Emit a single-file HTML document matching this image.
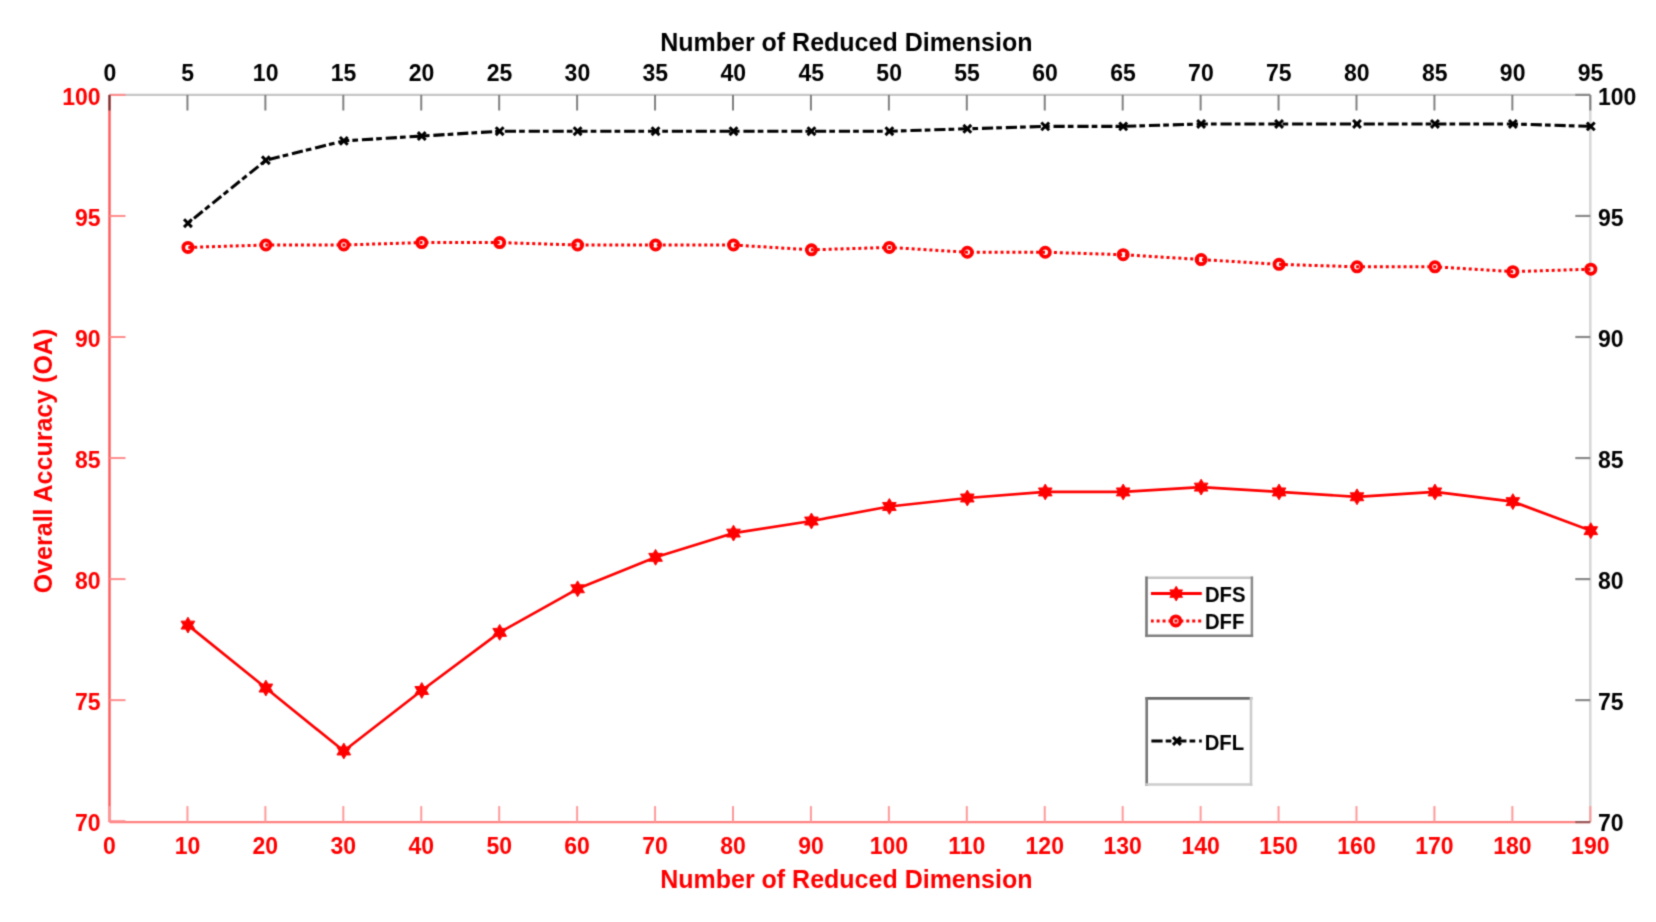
<!DOCTYPE html>
<html><head><meta charset="utf-8"><style>
html,body{margin:0;padding:0;background:#fff;}
body{width:1656px;height:922px;overflow:hidden;}
svg{display:block;}
</style></head><body>
<svg width="1656" height="922" viewBox="0 0 1656 922">
<defs><filter id="bl" x="0" y="0" width="1656" height="922" filterUnits="userSpaceOnUse" color-interpolation-filters="sRGB"><feConvolveMatrix order="3" kernelMatrix="0.0622 0.2494 0.0622 0.2494 1.0000 0.2494 0.0622 0.2494 0.0622" edgeMode="none"/></filter></defs>
<rect width="100%" height="100%" fill="#fff"/>
<g filter="url(#bl)">
<line x1="109.5" y1="94.9" x2="1590.3" y2="94.9" stroke="#c6c6c6" stroke-width="2.4"/>
<line x1="1590.3" y1="94.9" x2="1590.3" y2="822.1" stroke="#d8d8d8" stroke-width="2.6"/>
<line x1="109.5" y1="822.1" x2="1590.3" y2="822.1" stroke="#ff8080" stroke-width="2.4"/>
<line x1="109.5" y1="94.9" x2="109.5" y2="822.1" stroke="#ff5a5a" stroke-width="2.4"/>
<line x1="109.50" y1="822.1" x2="109.50" y2="806.1" stroke="#ff9a9a" stroke-width="2"/>
<line x1="187.44" y1="822.1" x2="187.44" y2="806.1" stroke="#ff9a9a" stroke-width="2"/>
<line x1="265.37" y1="822.1" x2="265.37" y2="806.1" stroke="#ff9a9a" stroke-width="2"/>
<line x1="343.31" y1="822.1" x2="343.31" y2="806.1" stroke="#ff9a9a" stroke-width="2"/>
<line x1="421.25" y1="822.1" x2="421.25" y2="806.1" stroke="#ff9a9a" stroke-width="2"/>
<line x1="499.18" y1="822.1" x2="499.18" y2="806.1" stroke="#ff9a9a" stroke-width="2"/>
<line x1="577.12" y1="822.1" x2="577.12" y2="806.1" stroke="#ff9a9a" stroke-width="2"/>
<line x1="655.06" y1="822.1" x2="655.06" y2="806.1" stroke="#ff9a9a" stroke-width="2"/>
<line x1="732.99" y1="822.1" x2="732.99" y2="806.1" stroke="#ff9a9a" stroke-width="2"/>
<line x1="810.93" y1="822.1" x2="810.93" y2="806.1" stroke="#ff9a9a" stroke-width="2"/>
<line x1="888.87" y1="822.1" x2="888.87" y2="806.1" stroke="#ff9a9a" stroke-width="2"/>
<line x1="966.81" y1="822.1" x2="966.81" y2="806.1" stroke="#ff9a9a" stroke-width="2"/>
<line x1="1044.74" y1="822.1" x2="1044.74" y2="806.1" stroke="#ff9a9a" stroke-width="2"/>
<line x1="1122.68" y1="822.1" x2="1122.68" y2="806.1" stroke="#ff9a9a" stroke-width="2"/>
<line x1="1200.62" y1="822.1" x2="1200.62" y2="806.1" stroke="#ff9a9a" stroke-width="2"/>
<line x1="1278.55" y1="822.1" x2="1278.55" y2="806.1" stroke="#ff9a9a" stroke-width="2"/>
<line x1="1356.49" y1="822.1" x2="1356.49" y2="806.1" stroke="#ff9a9a" stroke-width="2"/>
<line x1="1434.43" y1="822.1" x2="1434.43" y2="806.1" stroke="#ff9a9a" stroke-width="2"/>
<line x1="1512.36" y1="822.1" x2="1512.36" y2="806.1" stroke="#ff9a9a" stroke-width="2"/>
<line x1="1590.30" y1="822.1" x2="1590.30" y2="806.1" stroke="#ff9a9a" stroke-width="2"/>
<line x1="109.5" y1="821.20" x2="125.5" y2="821.20" stroke="#ff8c8c" stroke-width="2"/>
<line x1="109.5" y1="700.15" x2="125.5" y2="700.15" stroke="#ff8c8c" stroke-width="2"/>
<line x1="109.5" y1="579.10" x2="125.5" y2="579.10" stroke="#ff8c8c" stroke-width="2"/>
<line x1="109.5" y1="458.05" x2="125.5" y2="458.05" stroke="#ff8c8c" stroke-width="2"/>
<line x1="109.5" y1="337.00" x2="125.5" y2="337.00" stroke="#ff8c8c" stroke-width="2"/>
<line x1="109.5" y1="215.95" x2="125.5" y2="215.95" stroke="#ff8c8c" stroke-width="2"/>
<line x1="109.5" y1="94.90" x2="125.5" y2="94.90" stroke="#ff8c8c" stroke-width="2"/>
<line x1="109.50" y1="94.9" x2="109.50" y2="110.5" stroke="#6a3535" stroke-width="2"/>
<line x1="187.44" y1="94.9" x2="187.44" y2="110.5" stroke="#808080" stroke-width="2"/>
<line x1="265.37" y1="94.9" x2="265.37" y2="110.5" stroke="#808080" stroke-width="2"/>
<line x1="343.31" y1="94.9" x2="343.31" y2="110.5" stroke="#808080" stroke-width="2"/>
<line x1="421.25" y1="94.9" x2="421.25" y2="110.5" stroke="#808080" stroke-width="2"/>
<line x1="499.18" y1="94.9" x2="499.18" y2="110.5" stroke="#808080" stroke-width="2"/>
<line x1="577.12" y1="94.9" x2="577.12" y2="110.5" stroke="#808080" stroke-width="2"/>
<line x1="655.06" y1="94.9" x2="655.06" y2="110.5" stroke="#808080" stroke-width="2"/>
<line x1="732.99" y1="94.9" x2="732.99" y2="110.5" stroke="#808080" stroke-width="2"/>
<line x1="810.93" y1="94.9" x2="810.93" y2="110.5" stroke="#808080" stroke-width="2"/>
<line x1="888.87" y1="94.9" x2="888.87" y2="110.5" stroke="#808080" stroke-width="2"/>
<line x1="966.81" y1="94.9" x2="966.81" y2="110.5" stroke="#808080" stroke-width="2"/>
<line x1="1044.74" y1="94.9" x2="1044.74" y2="110.5" stroke="#808080" stroke-width="2"/>
<line x1="1122.68" y1="94.9" x2="1122.68" y2="110.5" stroke="#808080" stroke-width="2"/>
<line x1="1200.62" y1="94.9" x2="1200.62" y2="110.5" stroke="#808080" stroke-width="2"/>
<line x1="1278.55" y1="94.9" x2="1278.55" y2="110.5" stroke="#808080" stroke-width="2"/>
<line x1="1356.49" y1="94.9" x2="1356.49" y2="110.5" stroke="#808080" stroke-width="2"/>
<line x1="1434.43" y1="94.9" x2="1434.43" y2="110.5" stroke="#808080" stroke-width="2"/>
<line x1="1512.36" y1="94.9" x2="1512.36" y2="110.5" stroke="#808080" stroke-width="2"/>
<line x1="1590.30" y1="94.9" x2="1590.30" y2="110.5" stroke="#808080" stroke-width="2"/>
<line x1="1575.3" y1="822.10" x2="1590.3" y2="822.10" stroke="#9a5a5a" stroke-width="2.2"/>
<line x1="1575.3" y1="700.15" x2="1590.3" y2="700.15" stroke="#8a8a8a" stroke-width="2.2"/>
<line x1="1575.3" y1="579.10" x2="1590.3" y2="579.10" stroke="#8a8a8a" stroke-width="2.2"/>
<line x1="1575.3" y1="458.05" x2="1590.3" y2="458.05" stroke="#8a8a8a" stroke-width="2.2"/>
<line x1="1575.3" y1="337.00" x2="1590.3" y2="337.00" stroke="#8a8a8a" stroke-width="2.2"/>
<line x1="1575.3" y1="215.95" x2="1590.3" y2="215.95" stroke="#8a8a8a" stroke-width="2.2"/>
<line x1="1575.3" y1="94.90" x2="1590.3" y2="94.90" stroke="#8a8a8a" stroke-width="2.2"/>
<text x="109.80" y="81" font-family="Liberation Sans, Arial, sans-serif" font-weight="bold" font-size="23" text-anchor="middle" fill="#000">0</text>
<text x="187.74" y="81" font-family="Liberation Sans, Arial, sans-serif" font-weight="bold" font-size="23" text-anchor="middle" fill="#000">5</text>
<text x="265.67" y="81" font-family="Liberation Sans, Arial, sans-serif" font-weight="bold" font-size="23" text-anchor="middle" fill="#000">10</text>
<text x="343.61" y="81" font-family="Liberation Sans, Arial, sans-serif" font-weight="bold" font-size="23" text-anchor="middle" fill="#000">15</text>
<text x="421.55" y="81" font-family="Liberation Sans, Arial, sans-serif" font-weight="bold" font-size="23" text-anchor="middle" fill="#000">20</text>
<text x="499.48" y="81" font-family="Liberation Sans, Arial, sans-serif" font-weight="bold" font-size="23" text-anchor="middle" fill="#000">25</text>
<text x="577.42" y="81" font-family="Liberation Sans, Arial, sans-serif" font-weight="bold" font-size="23" text-anchor="middle" fill="#000">30</text>
<text x="655.36" y="81" font-family="Liberation Sans, Arial, sans-serif" font-weight="bold" font-size="23" text-anchor="middle" fill="#000">35</text>
<text x="733.29" y="81" font-family="Liberation Sans, Arial, sans-serif" font-weight="bold" font-size="23" text-anchor="middle" fill="#000">40</text>
<text x="811.23" y="81" font-family="Liberation Sans, Arial, sans-serif" font-weight="bold" font-size="23" text-anchor="middle" fill="#000">45</text>
<text x="889.17" y="81" font-family="Liberation Sans, Arial, sans-serif" font-weight="bold" font-size="23" text-anchor="middle" fill="#000">50</text>
<text x="967.11" y="81" font-family="Liberation Sans, Arial, sans-serif" font-weight="bold" font-size="23" text-anchor="middle" fill="#000">55</text>
<text x="1045.04" y="81" font-family="Liberation Sans, Arial, sans-serif" font-weight="bold" font-size="23" text-anchor="middle" fill="#000">60</text>
<text x="1122.98" y="81" font-family="Liberation Sans, Arial, sans-serif" font-weight="bold" font-size="23" text-anchor="middle" fill="#000">65</text>
<text x="1200.92" y="81" font-family="Liberation Sans, Arial, sans-serif" font-weight="bold" font-size="23" text-anchor="middle" fill="#000">70</text>
<text x="1278.85" y="81" font-family="Liberation Sans, Arial, sans-serif" font-weight="bold" font-size="23" text-anchor="middle" fill="#000">75</text>
<text x="1356.79" y="81" font-family="Liberation Sans, Arial, sans-serif" font-weight="bold" font-size="23" text-anchor="middle" fill="#000">80</text>
<text x="1434.73" y="81" font-family="Liberation Sans, Arial, sans-serif" font-weight="bold" font-size="23" text-anchor="middle" fill="#000">85</text>
<text x="1512.66" y="81" font-family="Liberation Sans, Arial, sans-serif" font-weight="bold" font-size="23" text-anchor="middle" fill="#000">90</text>
<text x="1590.60" y="81" font-family="Liberation Sans, Arial, sans-serif" font-weight="bold" font-size="23" text-anchor="middle" fill="#000">95</text>
<text x="109.50" y="853.5" font-family="Liberation Sans, Arial, sans-serif" font-weight="bold" font-size="23" text-anchor="middle" fill="#ff0000">0</text>
<text x="187.44" y="853.5" font-family="Liberation Sans, Arial, sans-serif" font-weight="bold" font-size="23" text-anchor="middle" fill="#ff0000">10</text>
<text x="265.37" y="853.5" font-family="Liberation Sans, Arial, sans-serif" font-weight="bold" font-size="23" text-anchor="middle" fill="#ff0000">20</text>
<text x="343.31" y="853.5" font-family="Liberation Sans, Arial, sans-serif" font-weight="bold" font-size="23" text-anchor="middle" fill="#ff0000">30</text>
<text x="421.25" y="853.5" font-family="Liberation Sans, Arial, sans-serif" font-weight="bold" font-size="23" text-anchor="middle" fill="#ff0000">40</text>
<text x="499.18" y="853.5" font-family="Liberation Sans, Arial, sans-serif" font-weight="bold" font-size="23" text-anchor="middle" fill="#ff0000">50</text>
<text x="577.12" y="853.5" font-family="Liberation Sans, Arial, sans-serif" font-weight="bold" font-size="23" text-anchor="middle" fill="#ff0000">60</text>
<text x="655.06" y="853.5" font-family="Liberation Sans, Arial, sans-serif" font-weight="bold" font-size="23" text-anchor="middle" fill="#ff0000">70</text>
<text x="732.99" y="853.5" font-family="Liberation Sans, Arial, sans-serif" font-weight="bold" font-size="23" text-anchor="middle" fill="#ff0000">80</text>
<text x="810.93" y="853.5" font-family="Liberation Sans, Arial, sans-serif" font-weight="bold" font-size="23" text-anchor="middle" fill="#ff0000">90</text>
<text x="888.87" y="853.5" font-family="Liberation Sans, Arial, sans-serif" font-weight="bold" font-size="23" text-anchor="middle" fill="#ff0000">100</text>
<text x="966.81" y="853.5" font-family="Liberation Sans, Arial, sans-serif" font-weight="bold" font-size="23" text-anchor="middle" fill="#ff0000">110</text>
<text x="1044.74" y="853.5" font-family="Liberation Sans, Arial, sans-serif" font-weight="bold" font-size="23" text-anchor="middle" fill="#ff0000">120</text>
<text x="1122.68" y="853.5" font-family="Liberation Sans, Arial, sans-serif" font-weight="bold" font-size="23" text-anchor="middle" fill="#ff0000">130</text>
<text x="1200.62" y="853.5" font-family="Liberation Sans, Arial, sans-serif" font-weight="bold" font-size="23" text-anchor="middle" fill="#ff0000">140</text>
<text x="1278.55" y="853.5" font-family="Liberation Sans, Arial, sans-serif" font-weight="bold" font-size="23" text-anchor="middle" fill="#ff0000">150</text>
<text x="1356.49" y="853.5" font-family="Liberation Sans, Arial, sans-serif" font-weight="bold" font-size="23" text-anchor="middle" fill="#ff0000">160</text>
<text x="1434.43" y="853.5" font-family="Liberation Sans, Arial, sans-serif" font-weight="bold" font-size="23" text-anchor="middle" fill="#ff0000">170</text>
<text x="1512.36" y="853.5" font-family="Liberation Sans, Arial, sans-serif" font-weight="bold" font-size="23" text-anchor="middle" fill="#ff0000">180</text>
<text x="1590.30" y="853.5" font-family="Liberation Sans, Arial, sans-serif" font-weight="bold" font-size="23" text-anchor="middle" fill="#ff0000">190</text>
<text x="100.6" y="831.20" font-family="Liberation Sans, Arial, sans-serif" font-weight="bold" font-size="23" text-anchor="end" fill="#ff0000">70</text>
<text x="100.6" y="710.15" font-family="Liberation Sans, Arial, sans-serif" font-weight="bold" font-size="23" text-anchor="end" fill="#ff0000">75</text>
<text x="100.6" y="589.10" font-family="Liberation Sans, Arial, sans-serif" font-weight="bold" font-size="23" text-anchor="end" fill="#ff0000">80</text>
<text x="100.6" y="468.05" font-family="Liberation Sans, Arial, sans-serif" font-weight="bold" font-size="23" text-anchor="end" fill="#ff0000">85</text>
<text x="100.6" y="347.00" font-family="Liberation Sans, Arial, sans-serif" font-weight="bold" font-size="23" text-anchor="end" fill="#ff0000">90</text>
<text x="100.6" y="225.95" font-family="Liberation Sans, Arial, sans-serif" font-weight="bold" font-size="23" text-anchor="end" fill="#ff0000">95</text>
<text x="100.6" y="104.90" font-family="Liberation Sans, Arial, sans-serif" font-weight="bold" font-size="23" text-anchor="end" fill="#ff0000">100</text>
<text x="1598" y="831.20" font-family="Liberation Sans, Arial, sans-serif" font-weight="bold" font-size="23" text-anchor="start" fill="#000">70</text>
<text x="1598" y="710.15" font-family="Liberation Sans, Arial, sans-serif" font-weight="bold" font-size="23" text-anchor="start" fill="#000">75</text>
<text x="1598" y="589.10" font-family="Liberation Sans, Arial, sans-serif" font-weight="bold" font-size="23" text-anchor="start" fill="#000">80</text>
<text x="1598" y="468.05" font-family="Liberation Sans, Arial, sans-serif" font-weight="bold" font-size="23" text-anchor="start" fill="#000">85</text>
<text x="1598" y="347.00" font-family="Liberation Sans, Arial, sans-serif" font-weight="bold" font-size="23" text-anchor="start" fill="#000">90</text>
<text x="1598" y="225.95" font-family="Liberation Sans, Arial, sans-serif" font-weight="bold" font-size="23" text-anchor="start" fill="#000">95</text>
<text x="1598" y="104.90" font-family="Liberation Sans, Arial, sans-serif" font-weight="bold" font-size="23" text-anchor="start" fill="#000">100</text>
<text x="846.3" y="51" font-family="Liberation Sans, Arial, sans-serif" font-weight="bold" font-size="25" text-anchor="middle" fill="#000">Number of Reduced Dimension</text>
<text x="846.3" y="888" font-family="Liberation Sans, Arial, sans-serif" font-weight="bold" font-size="25" text-anchor="middle" fill="#ff0000">Number of Reduced Dimension</text>
<text transform="translate(52,461) rotate(-90)" x="0" y="0" font-family="Liberation Sans, Arial, sans-serif" font-weight="bold" font-size="25" text-anchor="middle" fill="#ff0000">Overall Accuracy (OA)</text>
<polyline points="187.94,223.21 265.87,160.27 343.81,140.90 421.75,136.06 499.68,131.21 577.62,131.21 655.56,131.21 733.49,131.21 811.43,131.21 889.37,131.21 967.31,128.79 1045.24,126.37 1123.18,126.37 1201.12,123.95 1279.05,123.95 1356.99,123.95 1434.93,123.95 1512.86,123.95 1590.80,126.37" fill="none" stroke="#000" stroke-width="3.1" stroke-dasharray="11.2 3.1 5.7 3.86" stroke-dashoffset="16.121" stroke-linejoin="round"/>
<path d="M184.04,219.31L191.84,227.11M184.04,227.11L191.84,219.31" stroke="#000" stroke-width="3" fill="none"/>
<path d="M261.97,156.37L269.77,164.17M261.97,164.17L269.77,156.37" stroke="#000" stroke-width="3" fill="none"/>
<path d="M339.91,137.00L347.71,144.80M339.91,144.80L347.71,137.00" stroke="#000" stroke-width="3" fill="none"/>
<path d="M417.85,132.16L425.65,139.96M417.85,139.96L425.65,132.16" stroke="#000" stroke-width="3" fill="none"/>
<path d="M495.78,127.31L503.58,135.11M495.78,135.11L503.58,127.31" stroke="#000" stroke-width="3" fill="none"/>
<path d="M573.72,127.31L581.52,135.11M573.72,135.11L581.52,127.31" stroke="#000" stroke-width="3" fill="none"/>
<path d="M651.66,127.31L659.46,135.11M651.66,135.11L659.46,127.31" stroke="#000" stroke-width="3" fill="none"/>
<path d="M729.59,127.31L737.39,135.11M729.59,135.11L737.39,127.31" stroke="#000" stroke-width="3" fill="none"/>
<path d="M807.53,127.31L815.33,135.11M807.53,135.11L815.33,127.31" stroke="#000" stroke-width="3" fill="none"/>
<path d="M885.47,127.31L893.27,135.11M885.47,135.11L893.27,127.31" stroke="#000" stroke-width="3" fill="none"/>
<path d="M963.41,124.89L971.21,132.69M963.41,132.69L971.21,124.89" stroke="#000" stroke-width="3" fill="none"/>
<path d="M1041.34,122.47L1049.14,130.27M1041.34,130.27L1049.14,122.47" stroke="#000" stroke-width="3" fill="none"/>
<path d="M1119.28,122.47L1127.08,130.27M1119.28,130.27L1127.08,122.47" stroke="#000" stroke-width="3" fill="none"/>
<path d="M1197.22,120.05L1205.02,127.85M1197.22,127.85L1205.02,120.05" stroke="#000" stroke-width="3" fill="none"/>
<path d="M1275.15,120.05L1282.95,127.85M1275.15,127.85L1282.95,120.05" stroke="#000" stroke-width="3" fill="none"/>
<path d="M1353.09,120.05L1360.89,127.85M1353.09,127.85L1360.89,120.05" stroke="#000" stroke-width="3" fill="none"/>
<path d="M1431.03,120.05L1438.83,127.85M1431.03,127.85L1438.83,120.05" stroke="#000" stroke-width="3" fill="none"/>
<path d="M1508.96,120.05L1516.76,127.85M1508.96,127.85L1516.76,120.05" stroke="#000" stroke-width="3" fill="none"/>
<path d="M1586.90,122.47L1594.70,130.27M1586.90,130.27L1594.70,122.47" stroke="#000" stroke-width="3" fill="none"/>
<polyline points="187.94,247.42 265.87,245.00 343.81,245.00 421.75,242.58 499.68,242.58 577.62,245.00 655.56,245.00 733.49,245.00 811.43,249.84 889.37,247.42 967.31,252.26 1045.24,252.26 1123.18,254.69 1201.12,259.53 1279.05,264.37 1356.99,266.79 1434.93,266.79 1512.86,271.63 1590.80,269.21" fill="none" stroke="#ff0000" stroke-width="3.0" stroke-dasharray="3.0 2.9323" stroke-dashoffset="5.620"/>
<circle cx="187.94" cy="247.42" r="4.6" fill="none" stroke="#ff0000" stroke-width="3.8"/>
<circle cx="265.87" cy="245.00" r="4.6" fill="none" stroke="#ff0000" stroke-width="3.8"/>
<circle cx="343.81" cy="245.00" r="4.6" fill="none" stroke="#ff0000" stroke-width="3.8"/>
<circle cx="421.75" cy="242.58" r="4.6" fill="none" stroke="#ff0000" stroke-width="3.8"/>
<circle cx="499.68" cy="242.58" r="4.6" fill="none" stroke="#ff0000" stroke-width="3.8"/>
<circle cx="577.62" cy="245.00" r="4.6" fill="none" stroke="#ff0000" stroke-width="3.8"/>
<circle cx="655.56" cy="245.00" r="4.6" fill="none" stroke="#ff0000" stroke-width="3.8"/>
<circle cx="733.49" cy="245.00" r="4.6" fill="none" stroke="#ff0000" stroke-width="3.8"/>
<circle cx="811.43" cy="249.84" r="4.6" fill="none" stroke="#ff0000" stroke-width="3.8"/>
<circle cx="889.37" cy="247.42" r="4.6" fill="none" stroke="#ff0000" stroke-width="3.8"/>
<circle cx="967.31" cy="252.26" r="4.6" fill="none" stroke="#ff0000" stroke-width="3.8"/>
<circle cx="1045.24" cy="252.26" r="4.6" fill="none" stroke="#ff0000" stroke-width="3.8"/>
<circle cx="1123.18" cy="254.69" r="4.6" fill="none" stroke="#ff0000" stroke-width="3.8"/>
<circle cx="1201.12" cy="259.53" r="4.6" fill="none" stroke="#ff0000" stroke-width="3.8"/>
<circle cx="1279.05" cy="264.37" r="4.6" fill="none" stroke="#ff0000" stroke-width="3.8"/>
<circle cx="1356.99" cy="266.79" r="4.6" fill="none" stroke="#ff0000" stroke-width="3.8"/>
<circle cx="1434.93" cy="266.79" r="4.6" fill="none" stroke="#ff0000" stroke-width="3.8"/>
<circle cx="1512.86" cy="271.63" r="4.6" fill="none" stroke="#ff0000" stroke-width="3.8"/>
<circle cx="1590.80" cy="269.21" r="4.6" fill="none" stroke="#ff0000" stroke-width="3.8"/>
<polyline points="187.94,625.10 265.87,688.05 343.81,750.99 421.75,690.47 499.68,632.36 577.62,588.78 655.56,557.31 733.49,533.10 811.43,521.00 889.37,506.47 967.31,498.00 1045.24,491.94 1123.18,491.94 1201.12,487.10 1279.05,491.94 1356.99,496.79 1434.93,491.94 1512.86,501.63 1590.80,530.68" fill="none" stroke="#ff0000" stroke-width="2.7" stroke-linejoin="round"/>
<polygon points="187.94,617.20 185.65,621.13 181.10,621.15 183.35,625.10 181.10,629.05 185.65,629.07 187.94,633.00 190.23,629.07 194.78,629.05 192.52,625.10 194.78,621.15 190.23,621.13" fill="#ff0000" stroke="#ff0000" stroke-width="1"/>
<polygon points="265.87,680.15 263.58,684.08 259.03,684.10 261.29,688.05 259.03,692.00 263.58,692.01 265.87,695.95 268.16,692.01 272.72,692.00 270.46,688.05 272.72,684.10 268.16,684.08" fill="#ff0000" stroke="#ff0000" stroke-width="1"/>
<polygon points="343.81,743.09 341.52,747.02 336.97,747.04 339.23,750.99 336.97,754.94 341.52,754.96 343.81,758.89 346.10,754.96 350.65,754.94 348.39,750.99 350.65,747.04 346.10,747.02" fill="#ff0000" stroke="#ff0000" stroke-width="1"/>
<polygon points="421.75,682.57 419.46,686.50 414.91,686.52 417.17,690.47 414.91,694.42 419.46,694.43 421.75,698.37 424.04,694.43 428.59,694.42 426.33,690.47 428.59,686.52 424.04,686.50" fill="#ff0000" stroke="#ff0000" stroke-width="1"/>
<polygon points="499.68,624.46 497.39,628.39 492.84,628.41 495.10,632.36 492.84,636.31 497.39,636.33 499.68,640.26 501.98,636.33 506.53,636.31 504.27,632.36 506.53,628.41 501.98,628.39" fill="#ff0000" stroke="#ff0000" stroke-width="1"/>
<polygon points="577.62,580.88 575.33,584.82 570.78,584.83 573.04,588.78 570.78,592.73 575.33,592.75 577.62,596.68 579.91,592.75 584.46,592.73 582.20,588.78 584.46,584.83 579.91,584.82" fill="#ff0000" stroke="#ff0000" stroke-width="1"/>
<polygon points="655.56,549.41 653.27,553.34 648.72,553.36 650.98,557.31 648.72,561.26 653.27,561.28 655.56,565.21 657.85,561.28 662.40,561.26 660.14,557.31 662.40,553.36 657.85,553.34" fill="#ff0000" stroke="#ff0000" stroke-width="1"/>
<polygon points="733.49,525.20 731.20,529.13 726.65,529.15 728.91,533.10 726.65,537.05 731.20,537.07 733.49,541.00 735.79,537.07 740.34,537.05 738.08,533.10 740.34,529.15 735.79,529.13" fill="#ff0000" stroke="#ff0000" stroke-width="1"/>
<polygon points="811.43,513.10 809.14,517.03 804.59,517.05 806.85,521.00 804.59,524.95 809.14,524.96 811.43,528.90 813.72,524.96 818.27,524.95 816.01,521.00 818.27,517.05 813.72,517.03" fill="#ff0000" stroke="#ff0000" stroke-width="1"/>
<polygon points="889.37,498.57 887.08,502.50 882.53,502.52 884.79,506.47 882.53,510.42 887.08,510.44 889.37,514.37 891.66,510.44 896.21,510.42 893.95,506.47 896.21,502.52 891.66,502.50" fill="#ff0000" stroke="#ff0000" stroke-width="1"/>
<polygon points="967.31,490.10 965.01,494.03 960.46,494.05 962.72,498.00 960.46,501.95 965.01,501.96 967.31,505.90 969.60,501.96 974.15,501.95 971.89,498.00 974.15,494.05 969.60,494.03" fill="#ff0000" stroke="#ff0000" stroke-width="1"/>
<polygon points="1045.24,484.04 1042.95,487.98 1038.40,487.99 1040.66,491.94 1038.40,495.89 1042.95,495.91 1045.24,499.84 1047.53,495.91 1052.08,495.89 1049.82,491.94 1052.08,487.99 1047.53,487.98" fill="#ff0000" stroke="#ff0000" stroke-width="1"/>
<polygon points="1123.18,484.04 1120.89,487.98 1116.34,487.99 1118.60,491.94 1116.34,495.89 1120.89,495.91 1123.18,499.84 1125.47,495.91 1130.02,495.89 1127.76,491.94 1130.02,487.99 1125.47,487.98" fill="#ff0000" stroke="#ff0000" stroke-width="1"/>
<polygon points="1201.12,479.20 1198.82,483.13 1194.27,483.15 1196.53,487.10 1194.27,491.05 1198.82,491.07 1201.12,495.00 1203.41,491.07 1207.96,491.05 1205.70,487.10 1207.96,483.15 1203.41,483.13" fill="#ff0000" stroke="#ff0000" stroke-width="1"/>
<polygon points="1279.05,484.04 1276.76,487.98 1272.21,487.99 1274.47,491.94 1272.21,495.89 1276.76,495.91 1279.05,499.84 1281.34,495.91 1285.89,495.89 1283.63,491.94 1285.89,487.99 1281.34,487.98" fill="#ff0000" stroke="#ff0000" stroke-width="1"/>
<polygon points="1356.99,488.89 1354.70,492.82 1350.15,492.84 1352.41,496.79 1350.15,500.74 1354.70,500.75 1356.99,504.69 1359.28,500.75 1363.83,500.74 1361.57,496.79 1363.83,492.84 1359.28,492.82" fill="#ff0000" stroke="#ff0000" stroke-width="1"/>
<polygon points="1434.93,484.04 1432.64,487.98 1428.08,487.99 1430.34,491.94 1428.08,495.89 1432.64,495.91 1434.93,499.84 1437.22,495.91 1441.77,495.89 1439.51,491.94 1441.77,487.99 1437.22,487.98" fill="#ff0000" stroke="#ff0000" stroke-width="1"/>
<polygon points="1512.86,493.73 1510.57,497.66 1506.02,497.68 1508.28,501.63 1506.02,505.58 1510.57,505.60 1512.86,509.53 1515.15,505.60 1519.70,505.58 1517.45,501.63 1519.70,497.68 1515.15,497.66" fill="#ff0000" stroke="#ff0000" stroke-width="1"/>
<polygon points="1590.80,522.78 1588.51,526.71 1583.96,526.73 1586.22,530.68 1583.96,534.63 1588.51,534.65 1590.80,538.58 1593.09,534.65 1597.64,534.63 1595.38,530.68 1597.64,526.73 1593.09,526.71" fill="#ff0000" stroke="#ff0000" stroke-width="1"/>
<rect x="1146.5" y="577.7" width="105.4" height="58.2" fill="#fff" stroke="none"/>
<line x1="1145.3" y1="577.7" x2="1253.1" y2="577.7" stroke="#c4c4c4" stroke-width="2.5"/>
<line x1="1146.5" y1="576.5" x2="1146.5" y2="637.1" stroke="#7a7a7a" stroke-width="2.6"/>
<line x1="1251.9" y1="576.5" x2="1251.9" y2="637.1" stroke="#8a8a8a" stroke-width="2.5"/>
<line x1="1145.3" y1="635.8" x2="1253.1" y2="635.8" stroke="#808080" stroke-width="2.6"/>
<line x1="1151" y1="593.6" x2="1201.8" y2="593.6" stroke="#ff0000" stroke-width="3"/>
<polygon points="1176.20,586.30 1174.08,589.93 1169.88,589.95 1171.97,593.60 1169.88,597.25 1174.08,597.27 1176.20,600.90 1178.32,597.27 1182.52,597.25 1180.43,593.60 1182.52,589.95 1178.32,589.93" fill="#ff0000" stroke="#ff0000" stroke-width="1"/>
<line x1="1151" y1="620.9" x2="1201.8" y2="620.9" stroke="#ff0000" stroke-width="3.0" stroke-dasharray="3.0 2.9323" stroke-dashoffset="0.300"/>
<circle cx="1175.80" cy="620.90" r="4.6" fill="none" stroke="#ff0000" stroke-width="3.8"/>
<text transform="translate(1204.9,601.6) scale(0.94,1)" font-family="Liberation Sans, Arial, sans-serif" font-weight="bold" font-size="21.6" fill="#000">DFS</text>
<text transform="translate(1204.9,629.4) scale(0.94,1)" font-family="Liberation Sans, Arial, sans-serif" font-weight="bold" font-size="21.6" fill="#000">DFF</text>
<rect x="1146.7" y="698.4" width="104.3" height="86.3" fill="#fff" stroke="none"/>
<line x1="1145.4" y1="698.4" x2="1252.3" y2="698.4" stroke="#6a6a6a" stroke-width="2.6"/>
<line x1="1146.7" y1="697.1" x2="1146.7" y2="786" stroke="#777" stroke-width="2.6"/>
<line x1="1251" y1="697.1" x2="1251" y2="786" stroke="#ccc" stroke-width="2.6"/>
<line x1="1145.4" y1="784.5" x2="1252.3" y2="784.5" stroke="#ccc" stroke-width="2.6"/>
<line x1="1151.4" y1="741" x2="1201.8" y2="741" stroke="#000" stroke-width="3.1" stroke-dasharray="11.2 3.1 5.7 3.86"/>
<path d="M1173.00,737.10L1180.80,744.90M1173.00,744.90L1180.80,737.10" stroke="#000" stroke-width="3" fill="none"/>
<text transform="translate(1204.7,749.5) scale(0.94,1)" font-family="Liberation Sans, Arial, sans-serif" font-weight="bold" font-size="21.6" fill="#000">DFL</text>
</g>
</svg>
</body></html>
